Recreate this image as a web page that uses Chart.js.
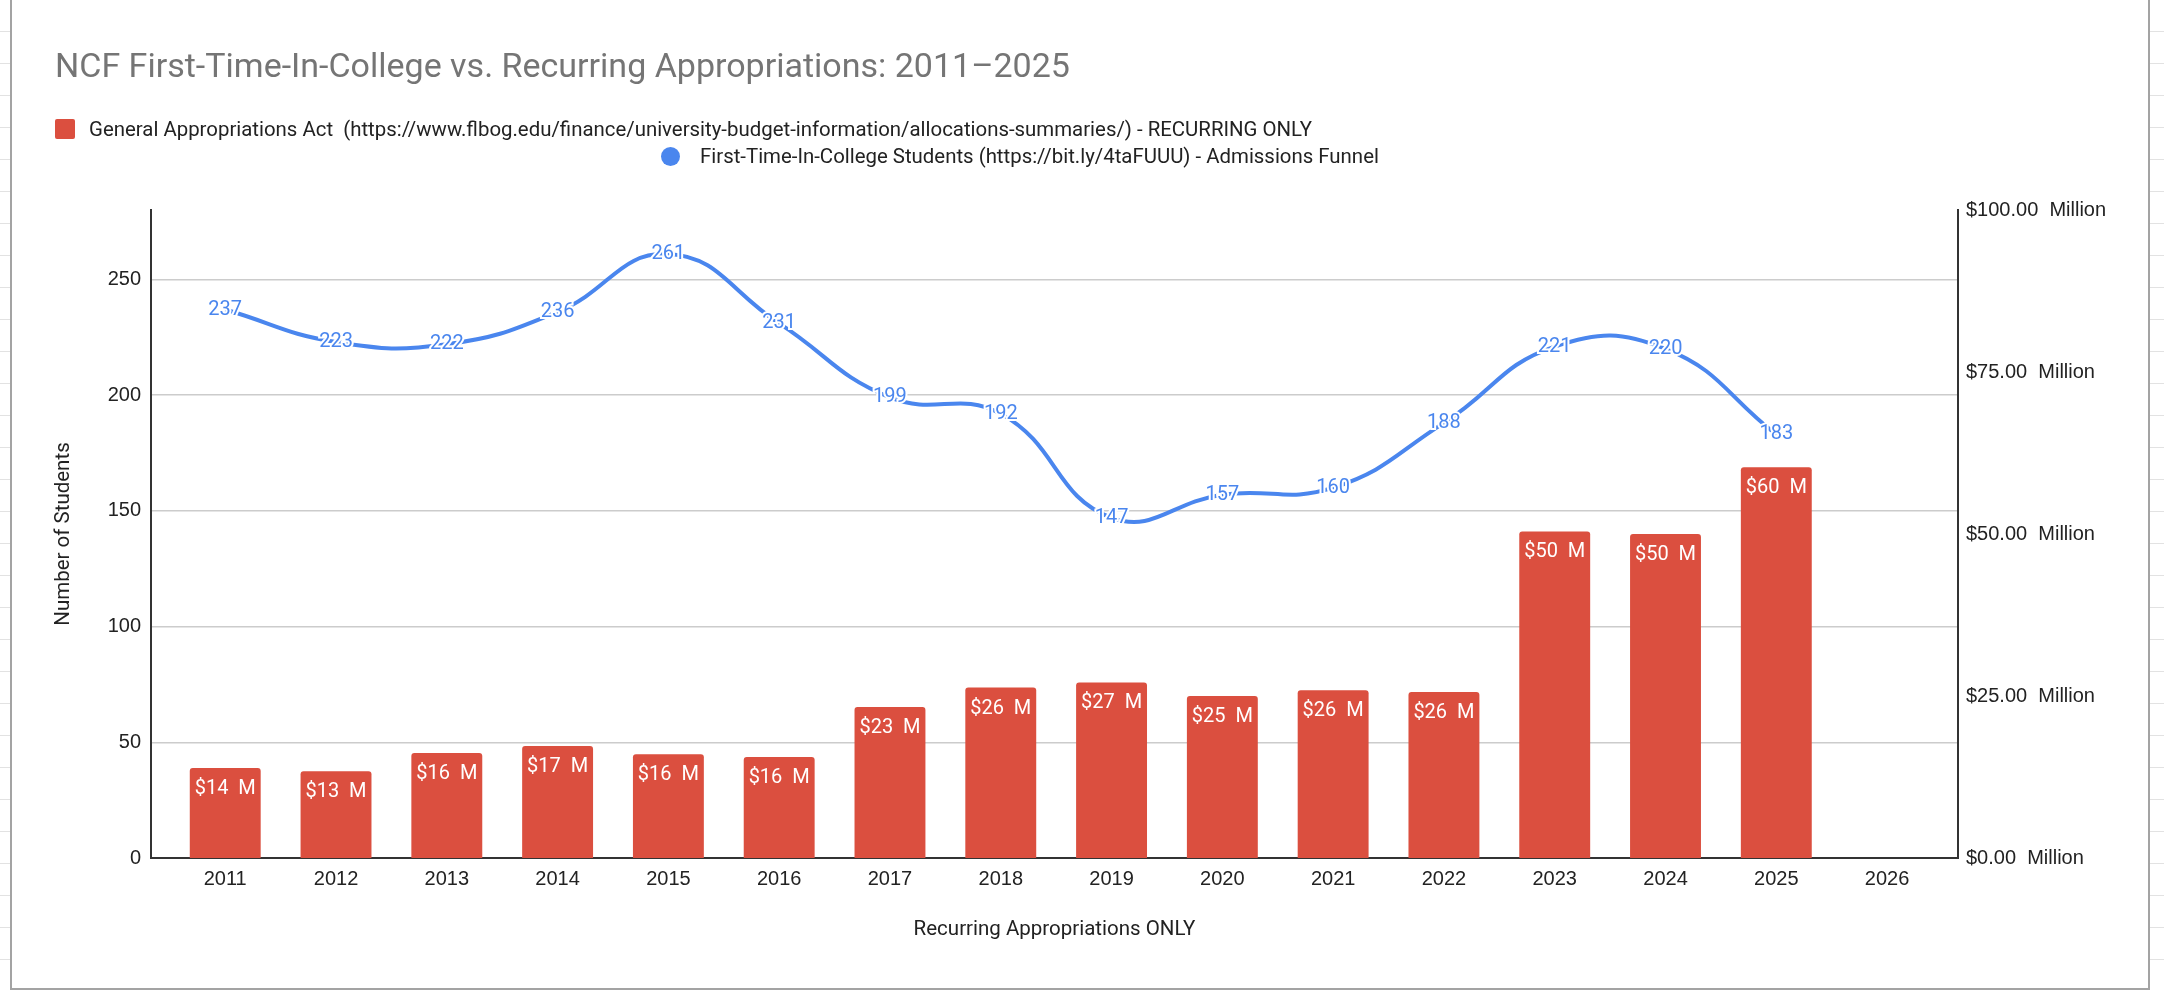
<!DOCTYPE html>
<html>
<head>
<meta charset="utf-8">
<script src="https://cdn.jsdelivr.net/npm/chart.js@4.4.1/dist/chart.umd.min.js"></script>
<style>
  html, body { margin: 0; padding: 0; }
  body {
    width: 2164px; height: 990px; overflow: hidden; position: relative;
    background: #fff;
    background-image: repeating-linear-gradient(to bottom, transparent 0, transparent 31px, #e2e2e2 31px, #e2e2e2 32px);
    font-family: Roboto, sans-serif;
  }
  #frame {
    position: absolute; left: 10px; top: -2px; width: 2140px; height: 992px;
    box-sizing: border-box; border: 2px solid #a3a3a3; background: #fff;
  }
  #chart { position: absolute; left: 0; top: 0; }
  #title {
    position: absolute; left: 55px; top: 46px;
    font-size: 34px; line-height: 38px; color: #757575; white-space: nowrap;
  }
  .legend-item {
    position: absolute; display: flex; align-items: center;
    font-size: 20.4px; color: #222; white-space: pre;
  }
  .legend-item .mark { width: 20px; height: 20px; margin-right: 14px; }
  .legend-item .mark.dot { width: 19px; height: 19px; margin-right: 20px; }
</style>
</head>
<body>
<div id="frame"></div>
<canvas id="chart" width="2164" height="990"></canvas>
<div id="title">NCF First-Time-In-College vs. Recurring Appropriations: 2011–2025</div>
<div id="legend"></div>
<script>
// values
const years = [2011, 2012, 2013, 2014, 2015, 2016, 2017, 2018, 2019, 2020, 2021, 2022, 2023, 2024, 2025, 2026];
const appropriationsMillions = [13.9, 13.4, 16.2, 17.3, 16.0, 15.6, 23.3, 26.3, 27.1, 25.0, 25.9, 25.6, 50.4, 50.0, 60.3, null];
const fticStudents = [237, 223, 222, 236, 261, 231, 199, 192, 147, 157, 160, 188, 221, 220, 183, null];
const studentTicks = [0, 50, 100, 150, 200, 250];
const dollarTicks = [0, 25, 50, 75, 100];
const seriesNames = [
  'General Appropriations Act  (https://www.flbog.edu/finance/university-budget-information/allocations-summaries/) - RECURRING ONLY',
  'First-Time-In-College Students (https://bit.ly/4taFUUU) - Admissions Funnel'
];

const RED = '#db4f3f';
const BLUE = '#4a86ee';
const tickFont = { family: 'Liberation Sans, Arial, sans-serif', size: 20 };
const titleFont = { family: 'Roboto', size: 20.5 };

// draws the values on bars and along the line
const valueLabels = {
  id: 'valueLabels',
  afterDatasetsDraw(chart) {
    const ctx = chart.ctx;
    chart.data.datasets.forEach((ds, i) => {
      const meta = chart.getDatasetMeta(i);
      meta.data.forEach((el, j) => {
        const v = ds.data[j].y;
        if (v == null) return;
        ctx.save();
        ctx.textAlign = 'center';
        ctx.textBaseline = 'middle';
        if (ds.type === 'bar') {
          ctx.font = '20px Roboto';
          ctx.fillStyle = '#fff';
          ctx.fillText('$' + Math.round(v) + '  M', el.x, el.y + 21);
        } else {
          ctx.font = '20px Roboto';
          ctx.lineWidth = 4;
          ctx.strokeStyle = '#fff';
          ctx.strokeText(String(v), el.x, el.y);
          ctx.fillStyle = BLUE;
          ctx.fillText(String(v), el.x, el.y);
        }
        ctx.restore();
      });
    });
  }
};

const chart = new Chart(document.getElementById('chart'), {
  data: {
    datasets: [
      {
        type: 'bar',
        label: seriesNames[0],
        data: years.map((y, i) => ({ x: y, y: appropriationsMillions[i] })),
        yAxisID: 'yRight',
        backgroundColor: RED,
        borderRadius: { topLeft: 3, topRight: 3 },
        borderSkipped: 'bottom',
        barPercentage: 0.64,
        categoryPercentage: 1,
        order: 2
      },
      {
        type: 'line',
        label: seriesNames[1],
        data: years.map((y, i) => ({ x: y, y: fticStudents[i] })),
        yAxisID: 'yLeft',
        borderColor: BLUE,
        backgroundColor: BLUE,
        borderWidth: 4,
        tension: 0.45,
        pointRadius: 0,
        order: 1
      }
    ]
  },
  options: {
    responsive: false,
    animation: false,
    layout: { padding: { top: 210, left: 0, right: 0, bottom: 0 } },
    plugins: {
      legend: { display: false },
      title: { display: false },
      tooltip: { enabled: false }
    },
    scales: {
      x: {
        type: 'linear',
        offset: false,
        min: 2010.33,
        max: 2026.64,
        grid: { display: false, drawTicks: false },
        border: { color: '#333', width: 2 },
        afterBuildTicks: s => { s.ticks = years.map(v => ({ value: v })); },
        afterFit: s => { s.height = 132; },
        ticks: { callback: v => String(v), font: tickFont, color: '#222', padding: 9, autoSkip: false, maxRotation: 0 },
        title: {
          display: true, text: 'Recurring Appropriations ONLY',
          font: titleFont, color: '#222', padding: { top: 0, bottom: 48 }
        }
      },
      yLeft: {
        type: 'linear',
        position: 'left',
        min: 0,
        max: 280,
        afterBuildTicks: s => { s.ticks = studentTicks.map(v => ({ value: v })); },
        afterFit: s => { s.width = 151; },
        grid: { color: '#cccccc', lineWidth: 1.5, drawTicks: false },
        border: { color: '#333', width: 2 },
        ticks: { font: tickFont, color: '#222', padding: 10 },
        title: {
          display: true, text: 'Number of Students',
          font: titleFont, color: '#222', padding: { top: 52, bottom: 0 }
        }
      },
      yRight: {
        type: 'linear',
        position: 'right',
        min: 0,
        max: 100,
        afterBuildTicks: s => { s.ticks = dollarTicks.map(v => ({ value: v })); },
        afterFit: s => { s.width = 206; },
        grid: { display: false, drawTicks: false },
        border: { color: '#333', width: 2 },
        ticks: { callback: v => '$' + v.toFixed(2) + '  Million', font: tickFont, color: '#222', padding: 8 }
      }
    }
  },
  plugins: [valueLabels]
});

// legend laid out like the sheet's two-line legend
const legendPos = [[55, 117], [661, 144]];
const legendEl = document.getElementById('legend');
chart.data.datasets.forEach((ds, i) => {
  const item = document.createElement('div');
  item.className = 'legend-item';
  item.style.left = legendPos[i][0] + 'px';
  item.style.top = legendPos[i][1] + 'px';
  const mark = document.createElement('span');
  mark.className = ds.type === 'line' ? 'mark dot' : 'mark';
  mark.style.background = ds.type === 'bar' ? RED : BLUE;
  mark.style.borderRadius = ds.type === 'line' ? '50%' : '2px';
  item.appendChild(mark);
  item.appendChild(document.createTextNode(ds.label));
  legendEl.appendChild(item);
});
</script>
</body>
</html>
